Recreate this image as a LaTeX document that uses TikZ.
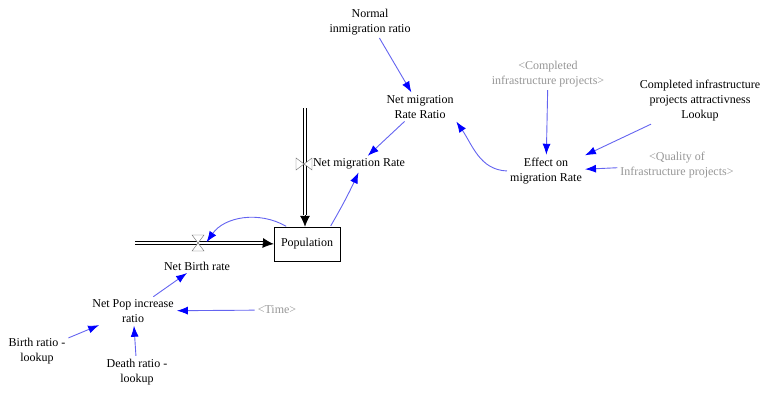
\documentclass[tikz,border=0pt]{standalone}
\usepackage{fontspec}
\setmainfont{Liberation Serif}
\usetikzlibrary{arrows.meta}
\definecolor{linkblue}{RGB}{100,100,240}
\definecolor{shadowgray}{RGB}{150,150,150}
\tikzset{
  link/.style={draw=linkblue,line width=0.9pt,-{Latex[length=11pt,width=8pt,color=blue]},shorten >=1pt,shorten <=1pt},
  pipe/.style={double,double distance=2.2pt,line width=0.7pt},
  flowtip/.style={line width=0.8pt,-{Latex[length=11pt,width=10pt]}},
  shadowvar/.style={text=shadowgray},
  stock/.style={draw,minimum width=66pt,minimum height=34pt},
  hourglass/.pic={\draw[fill=white,draw=black!60] (-6,8)--(6,8)--(0,0)--cycle (-6,-8)--(6,-8)--(0,0)--cycle;},
  bowtie/.pic={\draw[fill=white,draw=black!60] (-8,6)--(-8,-6)--(0,0)--cycle (8,6)--(8,-6)--(0,0)--cycle;}
}
\begin{document}
\begin{tikzpicture}
    [x=1pt,y=1pt,every node/.style={align=center,inner sep=2pt,font=\fontsize{12}{15}\selectfont}]
    \useasboundingbox (0,0) rectangle (762,392);
    \node (normal) at (370,370) {Normal\\inmigration ratio};
    \node (ratio) at (420,285) {Net migration\\Rate Ratio};
    \node[shadowvar] (cip) at (548,318) {<Completed\\infrastructure projects>};
    \node (ciplookup) at (700,291) {Completed infrastructure\\projects attractivness\\Lookup};
    \node (effect) at (546,221) {Effect on\\migration Rate};
    \node[shadowvar] (quality) at (677,227) {<Quality of\\Infrastructure projects>};
    \node (netmig) at (359,228) {Net migration Rate};
    \node[stock] (pop) at (307,148) {Population};
    \node (netbirth) at (197,126) {Net Birth rate};
    \node (npi) at (133,81) {Net Pop increase\\ratio};
    \node[shadowvar] (time) at (277,82) {<Time>};
    \node (birthlk) at (37,41) {Birth ratio -\\lookup};
    \node (deathlk) at (137,20) {Death ratio -\\lookup};
    % flows
    \coordinate (birthsrc) at (135,149);
    \coordinate (birthend) at (263,149);
    \coordinate (migsrc) at (305,284);
    \coordinate (migend) at (305,177);
    \coordinate (birthvalve) at (198,149);
    \coordinate (migvalve) at (304,228);
    \draw[pipe] (birthsrc) -- (birthend);
    \draw[flowtip] (birthend) -- (pop.west);
    \draw[pipe] (migsrc) -- (migend);
    \draw[flowtip] (migend) -- (pop.north -| migend);
    \path (birthvalve) pic {hourglass};
    \path (migvalve) pic {bowtie};
    % links
    \draw[link] (normal) -- (ratio);
    \draw[link] (ratio) -- (netmig);
    \draw[link] (effect.west) to[out=178,in=-55] (ratio.south east);
    \draw[link] (cip) -- (effect);
    \draw[link] (ciplookup) -- (effect.north east);
    \draw[link] (quality) -- (effect);
    \draw[link] ([xshift=-10pt]pop.north east) to[out=60,in=-115] (netmig.south);
    \draw[link] ([xshift=-20pt]pop.north) to[out=150,in=55] ([xshift=8pt]birthvalve);
    \draw[link] (npi) -- (netbirth);
    \draw[link] (time) -- (npi);
    \draw[link] (birthlk) -- (npi);
    \draw[link] (deathlk) -- (npi);
\end{tikzpicture}
\end{document}
